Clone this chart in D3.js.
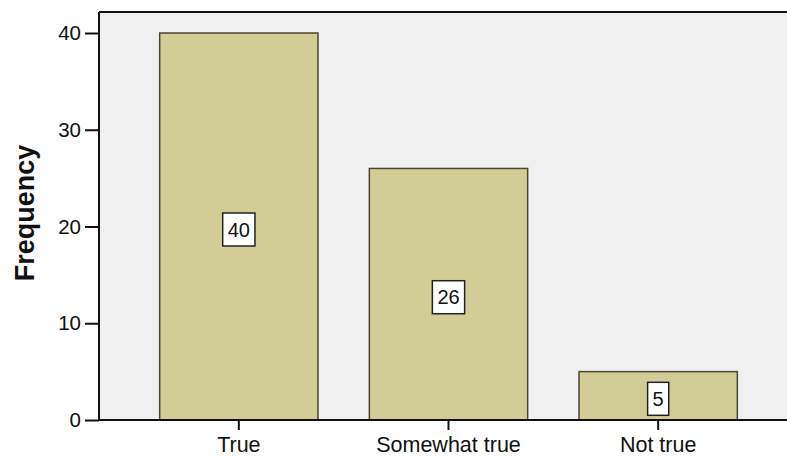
<!DOCTYPE html>
<html><head><meta charset="utf-8">
<script src="https://cdn.jsdelivr.net/npm/d3@7"></script>
<style>body{margin:0;background:#fff}svg{display:block}text{font-family:"Liberation Sans",Arial,sans-serif}</style>
</head><body><svg id="c" width="787" height="457"></svg>
<script>
const categories = ["True", "Somewhat true", "Not true"];
const frequencies = [40, 26, 5];
const yTicks = [0, 10, 20, 30, 40];
const yTitle = "Frequency";

const svg = d3.select("#c");
const pLeft = 99, pTop = 12, pRight = 787, pBottom = 420;

const x = d3.scaleBand().domain(categories).range([134, 763]).paddingInner(0.245).paddingOuter(0.1225);
const y = d3.scaleLinear().domain([0, 40]).range([pBottom, 33]);

svg.append("rect").attr("x", pLeft).attr("y", pTop).attr("width", pRight - pLeft).attr("height", pBottom - pTop).attr("fill", "#f0f0f0");

svg.selectAll("rect.bar").data(frequencies).join("rect").attr("class", "bar")
  .attr("x", (d, i) => x(categories[i])).attr("width", x.bandwidth())
  .attr("y", d => y(d)).attr("height", d => y(0) - y(d))
  .attr("fill", "#d2cd96").attr("stroke", "#4a4632").attr("stroke-width", 1.5);

// label boxes
const g = svg.selectAll("g.lab").data(frequencies).join("g").attr("class", "lab")
  .attr("transform", (d, i) => `translate(${x(categories[i]) + x.bandwidth() / 2},${(y(d) + y(0)) / 2 + 3})`);
g.append("text").attr("text-anchor", "middle").attr("dy", "0.36em").attr("font-size", 20).attr("fill", "#111").text(d => d)
  .each(function () {
    const b = this.getBBox();
    d3.select(this.parentNode).insert("rect", "text")
      .attr("x", b.x - 5).attr("y", -16.5).attr("width", b.width + 10).attr("height", 33)
      .attr("fill", "#fff").attr("stroke", "#222").attr("stroke-width", 1.5);
  });

// top border
svg.append("line").attr("x1", pLeft).attr("x2", pRight).attr("y1", pTop).attr("y2", pTop).attr("stroke", "#111").attr("stroke-width", 2);

// axes
const yAxis = svg.append("g").attr("transform", `translate(${pLeft},0)`)
  .call(d3.axisLeft(y).tickValues(yTicks).tickSize(14).tickPadding(4).tickFormat(d3.format("d")));
yAxis.select(".domain").remove();
yAxis.append("line").attr("x1", 0).attr("x2", 0).attr("y1", pTop).attr("y2", pBottom + 1).attr("stroke", "#111").attr("stroke-width", 2);
yAxis.selectAll(".tick line").attr("stroke", "#111").attr("stroke-width", 2);
yAxis.selectAll("text").attr("font-size", 20.5).attr("fill", "#111").attr("font-family", "Liberation Sans, Arial, sans-serif");

const xAxis = svg.append("g").attr("transform", `translate(0,${pBottom})`)
  .call(d3.axisBottom(x).tickSize(10).tickPadding(7));
xAxis.select(".domain").remove();
xAxis.append("line").attr("x1", pLeft).attr("x2", pRight).attr("y1", 0).attr("y2", 0).attr("stroke", "#111").attr("stroke-width", 2);
xAxis.selectAll(".tick line").attr("stroke", "#111").attr("stroke-width", 2);
xAxis.selectAll("text").attr("font-size", 21.5).attr("fill", "#111").attr("font-family", "Liberation Sans, Arial, sans-serif");

svg.append("text").attr("transform", `translate(34,213) rotate(-90)`).attr("text-anchor", "middle")
  .attr("font-size", 27).attr("font-weight", "bold").attr("fill", "#111").text(yTitle);
</script></body></html>
